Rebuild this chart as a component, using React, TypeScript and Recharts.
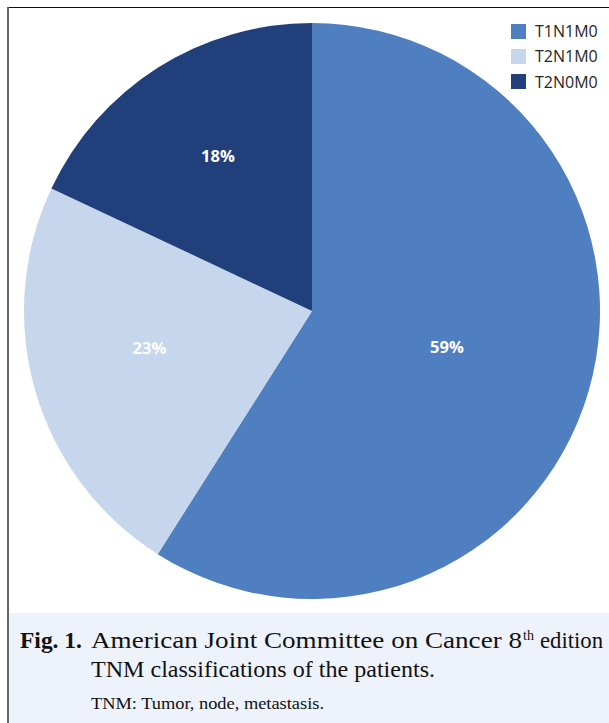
import React from "react";
import { PieChart, Pie, Cell, Legend } from "recharts";

const categories = ["T1N1M0", "T2N1M0", "T2N0M0"];
const percentages = [59, 23, 18];
const sliceColors = ["#4F7EC1", "#C6D6EC", "#213F7B"];
// label placement style: radius fraction and angular nudge (degrees)
const labelRadiusFactor = [0.485, 0.578, 0.632];
const labelAngleNudge = [1.27, -3.7, -1.3];

const data = categories.map((name, i) => ({ name, value: percentages[i] }));

const RAD = Math.PI / 180;

const renderLabel = (props: any) => {
  const { cx, cy, midAngle, outerRadius, index, value } = props;
  const r = outerRadius * labelRadiusFactor[index];
  const a = midAngle + labelAngleNudge[index];
  const x = cx + r * Math.cos(-a * RAD);
  const y = cy + r * Math.sin(-a * RAD);
  return (
    <text
      x={x}
      y={y}
      fill="#FFFFFF"
      textAnchor="middle"
      dominantBaseline="central"
      fontFamily="'Open Sans', sans-serif"
      fontWeight={700}
      fontSize={16.5}
    >
      {`${value}%`}
    </text>
  );
};

const renderLegend = () => (
  <div style={{ fontFamily: "'Open Sans', sans-serif", fontSize: 16, color: "#262626" }}>
    {categories.map((c, i) => (
      <div key={c} style={{ display: "flex", alignItems: "center", height: 25.3 }}>
        <div style={{ width: 15, height: 15, background: sliceColors[i], marginRight: 9 }} />
        <span style={{ lineHeight: "16px" }}>{c}</span>
      </div>
    ))}
  </div>
);

export default function App() {
  return (
    <div style={{ position: "absolute", left: 0, top: 0, width: 609, height: 723, background: "#FFFFFF", overflow: "hidden" }}>
      <div style={{ position: "absolute", left: 9, top: 613, width: 600, height: 110, background: "#EEF2FA" }} />
      <div style={{ position: "absolute", left: 7, top: 7, width: 602, height: 1, background: "#111" }} />
      <div style={{ position: "absolute", left: 7, top: 7, width: 2, height: 716, background: "#666" }} />
      <div style={{ position: "absolute", left: 0, top: 0 }}>
        <PieChart width={609} height={612} margin={{ top: 0, right: 0, bottom: 0, left: 0 }}>
          <Pie
            data={data}
            dataKey="value"
            nameKey="name"
            cx={312}
            cy={311}
            outerRadius={288}
            startAngle={90}
            endAngle={-270}
            stroke="none"
            label={renderLabel}
            labelLine={false}
            isAnimationActive={false}
          >
            {data.map((d, i) => (
              <Cell key={d.name} fill={sliceColors[i]} />
            ))}
          </Pie>
          <Legend
            layout="vertical"
            verticalAlign="top"
            align="right"
            content={renderLegend}
            wrapperStyle={{ top: 18.5, left: 511, width: 98 }}
          />
        </PieChart>
      </div>
      <svg style={{ position: "absolute", left: 0, top: 0 }} width={609} height={723}>
        <g fontFamily="'Liberation Serif', 'Times New Roman', serif" fill="#111">
          <text x={20} y={648} fontSize={23} fontWeight={700} textLength={62} lengthAdjust="spacingAndGlyphs">Fig. 1.</text>
          <text x={91} y={648} fontSize={23} textLength={431} lengthAdjust="spacingAndGlyphs">
            American Joint Committee on Cancer 8
          </text>
          <text x={523} y={640} fontSize={14}>th</text>
          <text x={540} y={648} fontSize={23} textLength={63} lengthAdjust="spacingAndGlyphs">edition</text>
          <text x={91} y={677} fontSize={23} textLength={344} lengthAdjust="spacingAndGlyphs">TNM classifications of the patients.</text>
          <text x={91} y={709} fontSize={17} textLength={233} lengthAdjust="spacingAndGlyphs">TNM: Tumor, node, metastasis.</text>
        </g>
      </svg>
    </div>
  );
}
